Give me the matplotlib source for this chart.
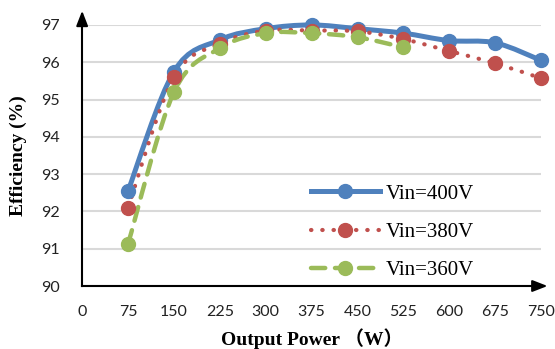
"""Efficiency vs output power for three input voltages (Excel-style smoothed lines)."""
import numpy as np
import matplotlib
matplotlib.use("Agg")
import matplotlib.pyplot as plt
from matplotlib.path import Path
from matplotlib.patches import PathPatch
from matplotlib.lines import Line2D

power = [75, 150, 225, 300, 375, 450, 525, 600, 675, 750]
eff_400 = [92.55, 95.75, 96.6, 96.9, 97.0, 96.9, 96.78, 96.58, 96.52, 96.05]
eff_380 = [92.1, 95.6, 96.5, 96.85, 96.85, 96.83, 96.62, 96.3, 95.97, 95.57]
power_360 = [75, 150, 225, 300, 375, 450, 525]
eff_360 = [91.13, 95.2, 96.38, 96.78, 96.78, 96.67, 96.4]
xticks = [0, 75, 150, 225, 300, 375, 450, 525, 600, 675, 750]
labels = ["Vin=400V", "Vin=380V", "Vin=360V"]
colors = ["#4f81bd", "#c0504d", "#9bbb59"]

SERIF = ["Liberation Serif", "Noto Sans CJK SC"]
SANS = "Lato"


def smooth_path(x, y):
    # Catmull-Rom -> cubic bezier, like Excel's "smoothed line"
    p = np.column_stack([x, y]).astype(float)
    verts = [p[0]]
    codes = [Path.MOVETO]
    n = len(p)
    for i in range(n - 1):
        p0 = p[i - 1] if i > 0 else p[i]
        p3 = p[i + 2] if i + 2 < n else p[i + 1]
        c1 = p[i] + (p[i + 1] - p0) / 6
        c2 = p[i + 1] - (p3 - p[i]) / 6
        verts += [c1, c2, p[i + 1]]
        codes += [Path.CURVE4] * 3
    return Path(verts, codes)


fig = plt.figure(figsize=(5.55, 3.49), dpi=100)
ax = fig.add_axes([0.148, 0.1805, 0.827, 0.748])

styles = [dict(lw=3.6, ls="-"), dict(lw=3.0, ls=(0, (0.1, 2.6))), dict(lw=3.2, ls=(0, (3.2, 2.2)))]
series = [(power, eff_400), (power, eff_380), (power_360, eff_360)]
handles = []
for (x, y), c, st, lab in zip(series, colors, styles, labels):
    patch = PathPatch(smooth_path(x, y), facecolor="none", edgecolor=c,
                      lw=st["lw"], ls=st["ls"], capstyle="round", zorder=3,
                      clip_on=False)
    ax.add_patch(patch)
    ax.plot(x, y, "o", color=c, ms=10, zorder=4, clip_on=False)
    handles.append(Line2D([], [], color=c, lw=st["lw"], ls=st["ls"],
                          dash_capstyle="round", marker="o", ms=10))

ax.set_xlim(0, 750)
ax.set_ylim(90, 97)
ax.set_xticks(xticks)
ax.set_yticks(range(90, 98))
ax.yaxis.grid(True, color="#d9d9d9", lw=1.5)
ax.set_axisbelow(True)
for s in ["top", "right"]:
    ax.spines[s].set_visible(False)
for s in ["left", "bottom"]:
    ax.spines[s].set_linewidth(1.5)
ax.tick_params(length=0, labelsize=11.5, colors="#222222")
ax.tick_params(axis="x", pad=14)
ax.tick_params(axis="y", pad=16)
for t in ax.get_xticklabels() + ax.get_yticklabels():
    t.set_fontfamily(SANS)

# arrow heads on the axes
ax.annotate("", xy=(0, 1.065), xytext=(0, 0.99), xycoords="axes fraction",
            arrowprops=dict(arrowstyle="-|>,head_width=0.35,head_length=0.9",
                            color="black", lw=1.5))
ax.annotate("", xy=(1.02, 0), xytext=(0.99, 0), xycoords="axes fraction",
            arrowprops=dict(arrowstyle="-|>,head_width=0.35,head_length=0.9",
                            color="black", lw=1.5))

ax.set_ylabel("Efficiency (%)", family=SERIF, fontweight="bold", fontsize=14, labelpad=10)
ax.set_xlabel("Output Power （W）", family=SERIF, fontweight="bold", fontsize=14, labelpad=6)

leg = ax.legend(handles, labels, loc="lower right", bbox_to_anchor=(0.895, -0.05),
                frameon=False, handlelength=3.3, labelspacing=0.9, handletextpad=0.3,
                prop=dict(family=SERIF, size=15))

fig.savefig("out.png", dpi=100)
